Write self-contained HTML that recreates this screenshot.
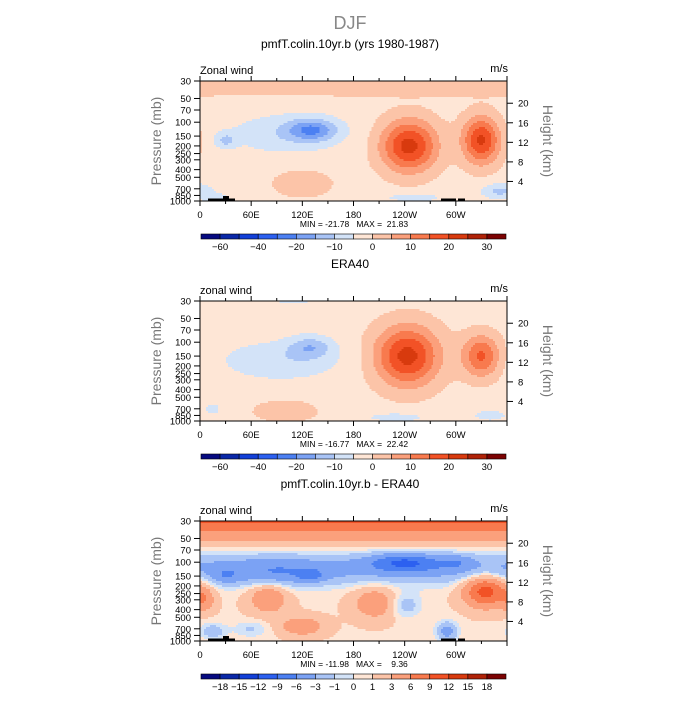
<!DOCTYPE html>
<html><head><meta charset="utf-8">
<style>
body{margin:0;background:#fff;width:700px;height:700px;overflow:hidden}
svg{font-family:"Liberation Sans",sans-serif}
</style></head>
<body>
<svg id="fig" width="700" height="700" xmlns="http://www.w3.org/2000/svg">
<text x="350" y="29" text-anchor="middle" font-size="18" fill="#888">DJF</text>
</svg>
<script>
// ---- data ----
var zwLonTicks = [0,60,120,180,240,300];
var zwLonTickLabels = ["0","60E","120E","180","120W","60W"];
var zwPresTicks = [30,50,70,100,150,200,250,300,400,500,700,850,1000];
var zwHeightTicks = [20,16,12,8,4];
var zwColors = ["#060a80","#0a28a8","#1240d8","#2c60f0","#4c80f2","#7ba2f4","#a9c4f6","#d3e3f8","#fee6d6","#fcc4a8","#fba07c","#f87a4e","#f25226","#d83a0e","#b02308","#7c0303"];
var zwLevelsFull = [-60,-50,-40,-30,-20,-15,-10,-5,0,5,10,15,20,25,30];
var zwLabelsFull = ["-60","-40","-20","-10","0","10","20","30"];
var zwLabelIdxFull = [0,2,4,6,8,10,12,14];
var zwLevelsDiff = [-18,-15,-12,-9,-6,-3,-1,0,1,3,6,9,12,15,18];
var zwLabelsDiff = ["-18","-15","-12","-9","-6","-3","-1","0","1","3","6","9","12","15","18"];
var zwLabelIdxDiff = [0,1,2,3,4,5,6,7,8,9,10,11,12,13,14];
// blobs: lon, pressure(mb), amplitude(m/s), lon width(deg), log-p width
var modelLon  = [180,100,132,30,245,330,120,0,250,345,20,130];
var modelP    = [35,140,125,170,200,170,600,750,900,750,900,750];
var modelAmp  = [6,-7,-15,-8,24,23,4.5,-5,-6,-6,-5,3];
var modelWl   = [1000,65,28,12,33,22,40,18,35,18,15,6];
var modelWz   = [0.12,0.25,0.14,0.1,0.33,0.3,0.2,0.1,0.06,0.1,0.06,0.05];
var eraLon  = [110,95,130,243,330,100,230,340,15];
var eraP    = [30,170,115,150,150,750,900,850,700];
var eraAmp  = [-4,-7,-10,24,18,5,-6,-6,-5];
var eraWl   = [40,70,25,38,22,40,35,20,10];
var eraWz   = [0.04,0.25,0.14,0.38,0.27,0.15,0.06,0.07,0.08];
var diffLon = [180,180,90,240,130,30,335,80,205,120,5,15,290,240,300,60];
var diffP   = [25,120,140,100,150,150,230,280,330,650,300,750,750,350,100,700];
var diffAmp = [9.5,-4.5,-3,-7,-4,-3,10,5,4.5,4.5,4,-3,-5,-3,-3,-2];
var diffWl  = [1000,1000,50,40,15,15,25,22,25,25,12,15,12,18,20,20];
var diffWz  = [0.28,0.2,0.17,0.12,0.08,0.1,0.2,0.2,0.2,0.12,0.15,0.1,0.12,0.15,0.1,0.1];
var zwPanelTitles = ["pmfT.colin.10yr.b (yrs 1980-1987)","ERA40","pmfT.colin.10yr.b - ERA40"];
var zwPanelMinMax = ["MIN = -21.78   MAX =  21.83","MIN = -16.77   MAX =  22.42","MIN = -11.98   MAX =    9.36"];
var zwPanelLeftTitle = ["Zonal wind","zonal wind","zonal wind"];

(function(){
var NSV="http://www.w3.org/2000/svg";
var root=document.getElementById('fig');
function el(tag,attrs,parent){var e=document.createElementNS(NSV,tag);for(var k in attrs)e.setAttribute(k,attrs[k]);(parent||root).appendChild(e);return e;}
var XA=200,XB=507;
function xsc(lon){return XA+(lon/360)*(XB-XA);}
function ysc(p,t0){return t0+Math.log10(p/30)/Math.log10(1000/30)*120;}
function fval(lon,p,b,L,P,A,W,Z){var v=b,z=Math.log10(p);for(var i=0;i<L.length;i++){var d=Math.abs(lon-L[i]);if(d>180)d=360-d;var dz=z-Math.log10(P[i]);v+=A[i]*Math.exp(-(d/W[i])*(d/W[i])-(dz/Z[i])*(dz/Z[i]));}return v;}
function cidx(v,lv){var i=0;while(i<lv.length&&v>=lv[i])i++;return i;}

var pnl=[
 {top:81,base:-2,L:modelLon,P:modelP,A:modelAmp,W:modelWl,Z:modelWz,lv:zwLevelsFull,lab:zwLabelsFull,li:zwLabelIdxFull,terrain:true},
 {top:301,base:-2,L:eraLon,P:eraP,A:eraAmp,W:eraWl,Z:eraWz,lv:zwLevelsFull,lab:zwLabelsFull,li:zwLabelIdxFull,terrain:false},
 {top:521,base:0.8,L:diffLon,P:diffP,A:diffAmp,W:diffWl,Z:diffWz,lv:zwLevelsDiff,lab:zwLabelsDiff,li:zwLabelIdxDiff,terrain:true}
];
pnl.forEach(function(pn,k){
  var g=el('g',{});
  
  
  var tt=el('text',{x:350,y:pn.top-33,'text-anchor':'middle','font-size':12,fill:'#000'},g);
  tt.textContent=zwPanelTitles[k];
  
  
  var cells=el('g',{'shape-rendering':'crispEdges'},g);
  
  
  var nx=154,ny=60,cwid=(XB-XA)/nx;
  for(var j=0;j<ny;j++){
    var ya=pn.top+j*2,yc=ya+1;
    var p=30*Math.pow(1000/30,(yc-pn.top)/120);
    var runStart=0,runC=-1;
    for(var i=0;i<=nx;i++){
      var c=-2;
      if(i<nx){
        var lon=((i+0.5)*cwid)/(XB-XA)*360;
        c=cidx(fval(lon,p,pn.base,pn.L,pn.P,pn.A,pn.W,pn.Z),pn.lv);
      }
      if(c!==runC){
        if(runC>=0){
          var r=el('rect',{x:(XA+runStart*cwid).toFixed(2),y:ya,width:((i-runStart)*cwid+0.3).toFixed(2),height:2.3,fill:zwColors[runC]},cells);
          
          
        }
        runStart=i;runC=c;
      }
    }
  }
  if(pn.terrain){
    [[208,198.5,27,2.5],[223,196,6,5],[441,198.5,15,2.5],[458,198.5,7,2.5]].forEach(function(a){
      var r2=el('rect',{x:a[0],y:pn.top+(a[1]-81),width:a[2],height:a[3],fill:'#000'},g);
      
      
    });
  }
  var fr=el('rect',{x:XA,y:pn.top,width:XB-XA,height:120,fill:'none',stroke:'#000','stroke-width':1},g);
  
  
  var bot=pn.top+120;
  for(var ln=0;ln<=360;ln+=30){
    var x=xsc(ln);
    el('line',{x1:x,y1:bot,x2:x,y2:bot+(ln%60?3:5),stroke:'#000'},g);
    el('line',{x1:x,y1:pn.top,x2:x,y2:pn.top-(ln%60?3:5),stroke:'#000'},g);
  }
  zwLonTicks.forEach(function(lon,i){
    var t2=el('text',{x:xsc(lon),y:bot+17,'text-anchor':'middle','font-size':9.5,fill:'#000'},g);
    t2.textContent=zwLonTickLabels[i];
    
    
  });
  zwPresTicks.forEach(function(pp){
    var y=ysc(pp,pn.top);
    el('line',{x1:XA-6,y1:y,x2:XA,y2:y,stroke:'#000'},g);
    var t2=el('text',{x:XA-9,y:y+3.5,'text-anchor':'end','font-size':9.5,fill:'#000'},g);
    t2.textContent=pp;
    
    
  });
  zwHeightTicks.forEach(function(h){
    var ph=1000*Math.exp(-h/7);
    var y=ysc(ph,pn.top);
    el('line',{x1:XB,y1:y,x2:XB+6,y2:y,stroke:'#000'},g);
    var t2=el('text',{x:XB+11,y:y+3.5,'font-size':9.5,fill:'#000'},g);
    t2.textContent=h;
    
    
  });
  var yt=el('text',{x:0,y:0,'text-anchor':'middle','font-size':14,fill:'#777',transform:'translate(161,'+(pn.top+60)+') rotate(-90)'},g);
  yt.textContent='Pressure (mb)';
  
  
  var ht=el('text',{x:0,y:0,'text-anchor':'middle','font-size':14,fill:'#777',transform:'translate(543,'+(pn.top+60)+') rotate(90)'},g);
  ht.textContent='Height (km)';
  
  
  var lt=el('text',{x:200,y:pn.top-7,'font-size':11,fill:'#000'},g);
  lt.textContent=zwPanelLeftTitle[k];
  
  
  var ut=el('text',{x:508,y:pn.top-9,'text-anchor':'end','font-size':11,fill:'#000'},g);
  ut.textContent='m/s';
  
  
  var mm=el('text',{x:354,y:bot+26,'text-anchor':'middle','font-size':8.5,fill:'#000',style:'white-space:pre'},g);
  mm.textContent=zwPanelMinMax[k];
  
  
  var cb=el('g',{},g);
  
  
  var cy=bot+33,cw=(506-201)/16;
  zwColors.forEach(function(c,i){
    var r3=el('rect',{x:201+i*cw,y:cy,width:cw,height:5,fill:c,stroke:'#000','stroke-width':0.6},cb);
    
    
  });
  pn.lab.forEach(function(s,i){
    var t3=el('text',{x:201+(pn.li[i]+1)*cw,y:cy+16,'text-anchor':'middle','font-size':9.5,fill:'#000'},cb);
    t3.textContent=s.replace('-','\u2212');
    
    
  });
});
})();
</script>
</body></html>
